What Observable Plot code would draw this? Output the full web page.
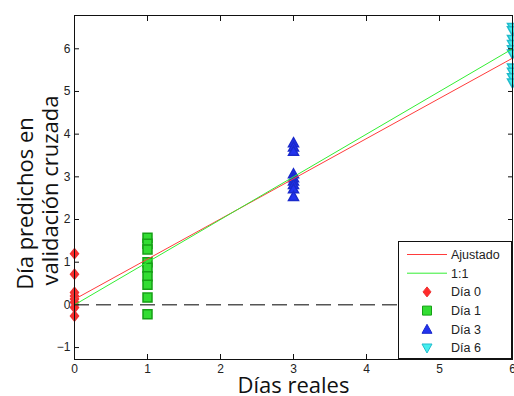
<!DOCTYPE html>
<html><head><meta charset="utf-8">
<script src="https://cdn.jsdelivr.net/npm/d3@7"></script>
<script src="https://cdn.jsdelivr.net/npm/@observablehq/plot@0.6"></script>
<style>
body{margin:0;background:#fff;}
#wrap{position:relative;width:514px;height:396px;}
#wrap svg{font-family:"Liberation Sans",Arial,sans-serif;}
#legend{position:absolute;left:398px;top:241px;}
</style></head><body><div id="wrap"></div>
<script>
// Data
const dia0 = [1.2, 0.72, 0.29, 0.21, 0.14, 0.06, -0.06, -0.26];
const dia1 = [1.57, 1.43, 1.3, 1.0, 0.87, 0.67, 0.47, 0.17, -0.22];
const dia3 = [3.8, 3.7, 3.6, 3.07, 2.98, 2.9, 2.82, 2.72, 2.54];
const dia6 = [6.5, 6.42, 6.22, 6.1, 5.98, 5.88, 5.55, 5.45, 5.32, 5.2];
const fitX = [0, 6];
const fitY = [0.13, 5.78];
const oneX = [0, 6];
const oneY = [0, 6];
const xTicks = [0, 1, 2, 3, 4, 5, 6];
const yTicks = [-1, 0, 1, 2, 3, 4, 5, 6];
const seriesNames = ["Ajustado", "1:1", "Día 0", "Día 1", "Día 3", "Día 6"];
const xTitle = "Días reales";
const yTitle1 = "Día predichos en";
const yTitle2 = "validación cruzada";

const symDiamond = {draw(c){c.moveTo(0,-5);c.lineTo(4,0);c.lineTo(0,5);c.lineTo(-4,0);c.closePath();}};
const symSquare = {draw(c){c.moveTo(-4.5,-4.5);c.lineTo(4.5,-4.5);c.lineTo(4.5,4.5);c.lineTo(-4.5,4.5);c.closePath();}};
const symUp = {draw(c){c.moveTo(0,-5);c.lineTo(5,4);c.lineTo(-5,4);c.closePath();}};
const symDown = {draw(c){c.moveTo(0,5);c.lineTo(5,-4);c.lineTo(-5,-4);c.closePath();}};

const styles = {
  d0: {fill:"#ff2a2a", stroke:"#ee3333", symbol: symDiamond},
  d1: {fill:"#33dd33", stroke:"#16a016", symbol: symSquare},
  d3: {fill:"#2233ee", stroke:"#1a2acc", symbol: symUp},
  d6: {fill:"#44eeee", stroke:"#22bbcc", symbol: symDown}
};

const pts = (day, arr) => arr.map(v => ({x: day, y: v}));
const line = (xs, ys) => xs.map((x, i) => ({x, y: ys[i]}));
const titleFont = '"Open Sans", sans-serif';

const chart = Plot.plot({
  width: 514, height: 396,
  marginLeft: 74, marginRight: 2, marginTop: 15, marginBottom: 37,
  x: {domain: [0, 6]},
  y: {domain: [-1.28, 6.78]},
  style: {fontFamily: '"Liberation Sans", Arial, sans-serif', fontSize: "12px", color: "#222"},
  marks: [
    Plot.ruleY([0], {x1: 0, x2: 6, stroke: "#555", strokeWidth: 1.5, strokeDasharray: "15,7"}),
    Plot.dot(pts(0, dia0), {x: "x", y: "y", ...styles.d0, r: 4}),
    Plot.dot(pts(1, dia1), {x: "x", y: "y", ...styles.d1, r: 4}),
    Plot.dot(pts(3, dia3), {x: "x", y: "y", ...styles.d3, r: 4}),
    Plot.dot(pts(6, dia6), {x: "x", y: "y", ...styles.d6, r: 4}),
    Plot.line(line(fitX, fitY), {x: "x", y: "y", stroke: "#ff3b3b", strokeWidth: 1}),
    Plot.line(line(oneX, oneY), {x: "x", y: "y", stroke: "#33ee33", strokeWidth: 1}),
    Plot.frame({stroke: "#111"}),
    Plot.axisX(xTicks, {anchor: "bottom", tickSize: -5, tickPadding: 10, label: null, stroke: "#111"}),
    Plot.axisX(xTicks, {anchor: "top", tickSize: -5, tickFormat: () => "", label: null, stroke: "#111"}),
    Plot.axisY(yTicks, {anchor: "left", tickSize: -5, tickPadding: 9, label: null, stroke: "#111"}),
    Plot.axisY(yTicks, {anchor: "right", tickSize: -5, tickFormat: () => "", label: null, stroke: "#111"}),
    Plot.text([xTitle], {frameAnchor: "bottom", dy: 26, lineAnchor: "middle", fontSize: 22, fontFamily: titleFont, fill: "#111"}),
    Plot.text([yTitle1], {frameAnchor: "left", dx: -49, dy: 16, rotate: -90, textAnchor: "middle", lineAnchor: "middle", fontSize: 22, fontFamily: titleFont, fill: "#111"}),
    Plot.text([yTitle2], {frameAnchor: "left", dx: -24, dy: 3, rotate: -90, textAnchor: "middle", lineAnchor: "middle", fontSize: 22, fontFamily: titleFont, fill: "#111"})
  ]
});
document.getElementById("wrap").appendChild(chart);

// Legend
const lg = d3.select("#wrap").append("svg").attr("id", "legend").attr("width", 115).attr("height", 119)
  .style("font-family", '"Liberation Sans", Arial, sans-serif').style("font-size", "12.5px");
lg.append("rect").attr("x", 0.5).attr("y", 0.5).attr("width", 113).attr("height", 117).attr("fill", "#fff").attr("stroke", "#111");
const entries = [
  {name: seriesNames[0], type: "line", color: "#ff3b3b"},
  {name: seriesNames[1], type: "line", color: "#33ee33"},
  {name: seriesNames[2], type: "sym", s: styles.d0},
  {name: seriesNames[3], type: "sym", s: styles.d1},
  {name: seriesNames[4], type: "sym", s: styles.d3},
  {name: seriesNames[5], type: "sym", s: styles.d6}
];
entries.forEach((e, i) => {
  const cy = 13.5 + i * 18.7;
  if (e.type === "line") {
    lg.append("line").attr("x1", 9).attr("x2", 49).attr("y1", cy).attr("y2", cy).attr("stroke", e.color);
  } else {
    const p = d3.path(); e.s.symbol.draw(p);
    lg.append("path").attr("d", p.toString()).attr("transform", `translate(29,${cy})`).attr("fill", e.s.fill).attr("stroke", e.s.stroke);
  }
  lg.append("text").attr("x", 53).attr("y", cy).attr("dy", "0.35em").attr("fill", "#222").text(e.name);
});
</script>
</body></html>
